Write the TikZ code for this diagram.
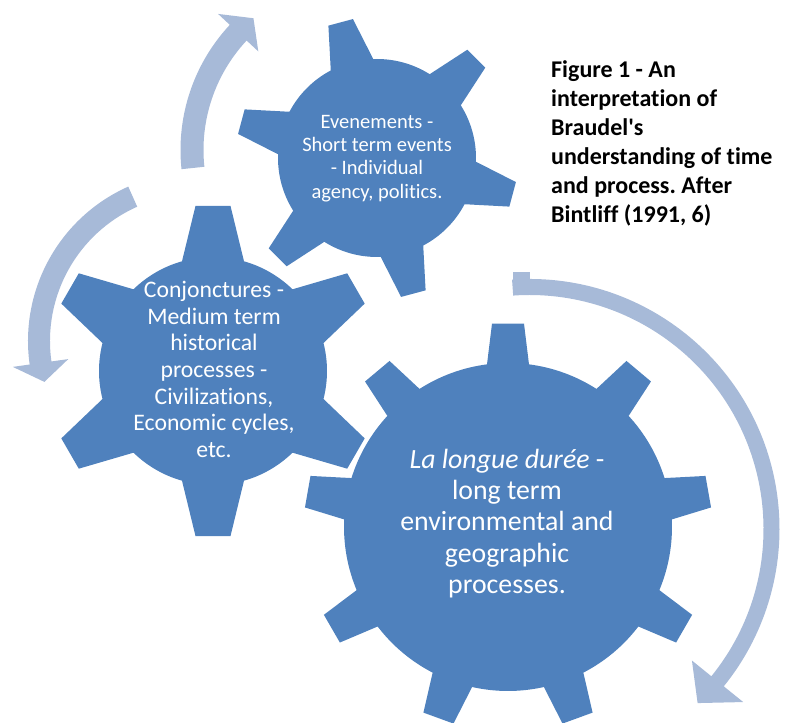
\documentclass[tikz,border=0pt]{standalone}
\usepackage{fontspec}
\setmainfont{Carlito}[Ligatures={NoCommon}]
\frenchspacing
\definecolor{gearblue}{RGB}{79,129,189}
\definecolor{arrowblue}{RGB}{167,186,216}
\tikzset{
  gearfill/.style={fill=gearblue},
  arrowfill/.style={fill=arrowblue},
  gtext/.style={text=white, align=center, inner sep=0pt},
  captext/.style={text=black, align=left, inner sep=0pt, anchor=west,
    font=\bfseries\fontsize{24}{29}\selectfont}
}
% #1 cx, #2 cy, #3 root radius, #4 outer radius, #5 teeth, #6 first tooth angle,
% #7 tooth base half-width, #8 tooth top half-width
\newcommand\drawgear[8]{%
  \pgfmathsetmacro\gearB{asin(#7/#3)}%
  \pgfmathsetmacro\gearT{asin(#8/#4)}%
  \pgfmathsetmacro\gearS{360/#5}%
  \pgfmathtruncatemacro\gearN{#5-1}%
  \begin{scope}[shift={(#1,#2)}]
    \fill[gearfill] ({#6-\gearB}:#3)
      \foreach \i in {0,...,\gearN}{
        -- ({#6+\i*\gearS-\gearT}:#4) -- ({#6+\i*\gearS+\gearT}:#4)
        -- ({#6+\i*\gearS+\gearB}:#3)
        arc[start angle={#6+\i*\gearS+\gearB}, end angle={#6+(\i+1)*\gearS-\gearB}, radius=#3]
      } -- cycle;
  \end{scope}}
% #1 cx, #2 cy, #3 r, #4 half shaft width, #5 start angle, #6 head base angle,
% #7 tip angle, #8 head half-width
\newcommand\circarrow[8]{%
  \begin{scope}[shift={(#1,#2)}]
    \fill[arrowfill] ({#5}:{#3+#4})
      arc[start angle=#5, end angle=#6, radius={#3+#4}]
      -- ({#6}:{#3+#8}) -- ({#7}:{#3}) -- ({#6}:{#3-#8}) -- ({#6}:{#3-#4})
      arc[start angle=#6, end angle=#5, radius={#3-#4}] -- cycle;
  \end{scope}}
\begin{document}
\begin{tikzpicture}[x=1pt,y=1pt]
\useasboundingbox (0,0) rectangle (788,723);
% arrows
\circarrow{364}{573}{172}{11.5}{186}{137}{130}{27.5}
\circarrow{197}{382}{158}{11}{114}{188}{195}{28}
\circarrow{529.5}{194}{242}{8}{94}{-39}{-46}{33}
\fill[arrowfill] (513,441) rectangle (530,451);
% gears
\drawgear{508}{196}{164}{204}{9}{90}{21}{16}
\drawgear{213}{352}{114}{166}{6}{90}{31}{17.5}
\drawgear{377}{565}{99}{141}{6}{45}{22}{12.7}
% texts
\node[gtext, font=\fontsize{20.5}{23.3}\selectfont] (small) at (377,564.5)
  {Evenements -\\Short term events\\- Individual\\agency, politics.};
\node[gtext, font=\fontsize{23.7}{26.7}\selectfont] (medium) at (214,353.5)
  {Conjonctures -\\Medium term\\historical\\processes -\\Civilizations,\\Economic cycles,\\etc.};
\node[gtext, font=\fontsize{27.8}{31.3}\selectfont] (large) at (507,199.5)
  {{\itshape La longue durée} -\\long term\\environmental and\\geographic\\processes.};
\node[captext] (caption) at (551,579.5)
  {Figure 1 - An\\interpretation of\\Braudel\textquotesingle s\\understanding of time\\and process. After\\Bintliff (1991, 6)};
\end{tikzpicture}
\end{document}
